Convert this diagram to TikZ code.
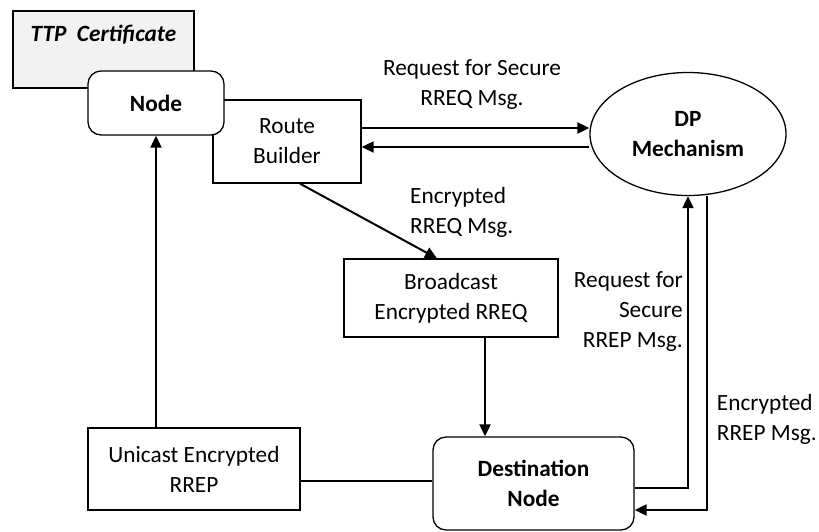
\documentclass[tikz,border=0pt]{standalone}
\usepackage{fontspec}
\setmainfont{Carlito}
\usetikzlibrary{positioning,shapes,arrows.meta}
\definecolor{ttpgray}{RGB}{242,242,242}

\begin{document}
\begin{tikzpicture}[x=1pt, y=-1pt,
    font=\fontsize{23.3}{30}\selectfont,
    box/.style={draw, line width=1.3pt, fill=white, rectangle, align=center, inner sep=0pt},
    rbox/.style={box, rounded corners=13pt, font=\fontsize{23.3}{30}\selectfont\bfseries},
    arrow/.style={-{Triangle[length=12pt, width=11pt]}, line width=2pt},
    line/.style={line width=2pt},
    msg/.style={inner sep=0pt}
]
    \useasboundingbox (0,0) rectangle (819,531);

    % Blocks
    \node[box, fill=ttpgray, minimum width=181pt, minimum height=77pt] (ttp) at (103.5,49.5) {};
    \node[font=\fontsize{23.3}{30}\selectfont\bfseries\itshape, inner sep=0pt] (ttptext) at (103.5,35) {TTP~~Certificate};
    \node[box, minimum width=148pt, minimum height=83pt] (route) at (287,141.5) {Route\\Builder};
    \node[rbox, minimum width=136pt, minimum height=64pt] (node) at (156,103) {Node};
    \node[box, ellipse, minimum width=196pt, minimum height=123pt, font=\fontsize{23.3}{30}\selectfont\bfseries] (dp) at (688,134) {DP\\Mechanism};
    \node[box, minimum width=214pt, minimum height=78pt] (bcast) at (451,298) {Broadcast\\Encrypted RREQ};
    \node[rbox, minimum width=201pt, minimum height=93pt] (dest) at (533.5,483.5) {Destination\\Node};
    \node[box, minimum width=212pt, minimum height=82pt] (unicast) at (194,469) {Unicast Encrypted\\RREP};

    % Arrows
    \draw[arrow] ([yshift=13.5pt]route.east) -- ([yshift=13.5pt]route.east -| dp.west);
    \draw[arrow] ([yshift=-5.5pt]route.east -| dp.west) -- ([yshift=-5.5pt]route.east);
    \draw[arrow] ([xshift=13pt]route.south) -- ([xshift=-14pt]bcast.north);
    \draw[arrow] ([xshift=34pt]bcast.south) -- ([xshift=34pt]bcast.south |- dest.north);
    \draw[arrow] ([yshift=-4.5pt]dest.east) -| (dp.south);
    \draw[arrow] ([xshift=19pt]dp.south) |- ([yshift=-26.5pt]dest.east);
    \draw[line] ([yshift=-12pt]unicast.east) -- ([yshift=-12pt]unicast.east -| dest.west);
    \draw[arrow] (unicast.north -| node.south) -- (node.south);

    % Labels
    \node[msg, align=center] (reqrreq) at (472,85) {Request for Secure\\RREQ Msg.};
    \node[msg, align=left, anchor=west] (encrreq) at (410,212) {Encrypted\\RREQ Msg.};
    \node[msg, align=right, anchor=east] (reqrrep) at (683,312) {Request for\\Secure\\RREP Msg.};
    \node[msg, align=left, anchor=east] (encrrep) at (817,419) {Encrypted\\RREP Msg.};
\end{tikzpicture}
\end{document}
